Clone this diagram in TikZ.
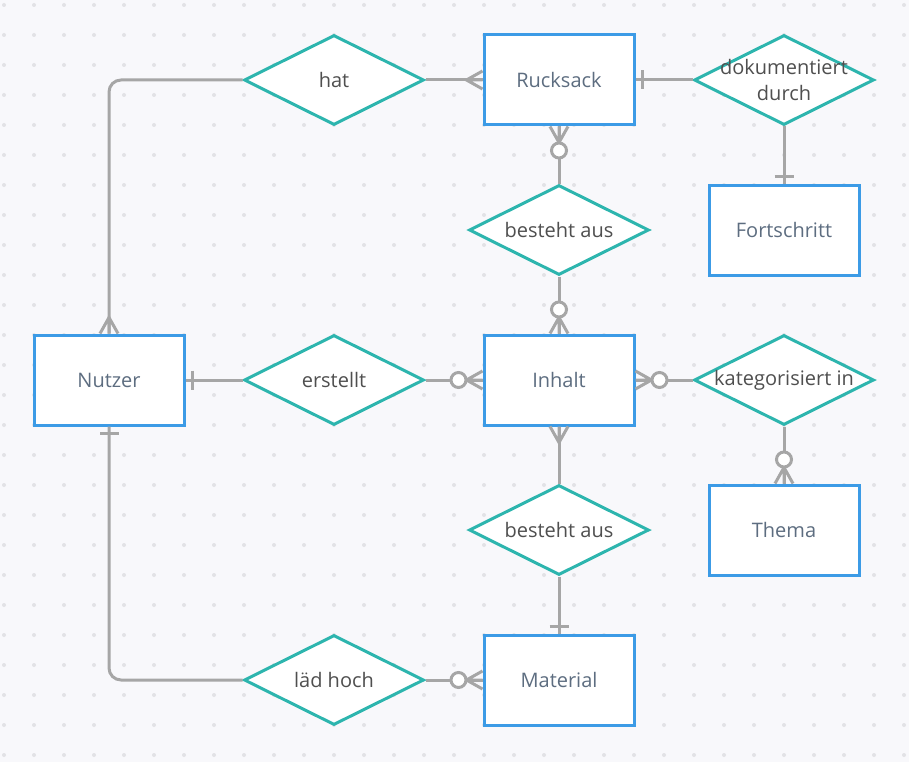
\documentclass[tikz,border=0pt]{standalone}
\usepackage{fontspec}
\setmainfont{Open Sans}
\usetikzlibrary{shapes.geometric}
\definecolor{bggrey}{HTML}{F8F8FB}
\definecolor{dotgrey}{HTML}{E2E2E6}
\definecolor{entblue}{HTML}{3C9BE6}
\definecolor{relteal}{HTML}{2DB5AE}
\definecolor{conngrey}{HTML}{A6A6A6}
\definecolor{enttext}{HTML}{5D6D80}
\definecolor{reltext}{HTML}{4F4F4F}
\tikzset{entity/.style={rectangle, draw=entblue, fill=white, line width=3pt, minimum width=150pt, minimum height=90pt, text=enttext, font=\fontsize{20}{26}\selectfont},
relation/.style={diamond, draw=relteal, fill=white, line width=3pt, minimum width=180pt, minimum height=90pt, inner sep=0pt},
reltxt/.style={align=center, text=reltext, font=\fontsize{20}{26}\selectfont},
conn/.style={draw=conngrey, line width=3pt},
%ends drawn outward from the box edge
many/.pic={\draw[conn] (0,9) -- (16,0) -- (0,-9) (0,0) -- (16,0);},
zeromany/.pic={\draw[conn] (0,9) -- (16,0) -- (0,-9) (0,0) -- (16,0);
  \draw[conn, fill=white] (24,0) circle (7.5);},
one/.pic={\draw[conn] (7,-9.5) -- (7,9.5);}}

\begin{document}
\begin{tikzpicture}[x=1pt, y=-1pt]

\fill[bggrey] (0,0) rectangle (909,762);
\useasboundingbox (0,0) rectangle (909,762);
\foreach \i in {0,...,30}
  \foreach \j in {0,...,25}
    \fill[dotgrey] (4+30*\i, 5+30*\j) circle (2);

\node[entity] (Rucksack) at (559,80) {Rucksack};
\node[entity] (Fortschritt) at (784,230) {Fortschritt};
\node[entity] (Nutzer) at (109,380) {Nutzer};
\node[entity] (Inhalt) at (559,380) {Inhalt};
\node[entity] (Thema) at (784,530) {Thema};
\node[entity] (Material) at (559,680) {Material};

\node[relation, label={[reltxt]center:hat}] (hat) at (334,80) {};
\node[relation, label={[reltxt]center:dokumentiert\\durch}] (dok) at (784,80) {};
\node[relation, label={[reltxt]center:besteht aus}] (besteht1) at (559,230) {};
\node[relation, label={[reltxt]center:erstellt}] (erstellt) at (334,380) {};
\node[relation, label={[reltxt]center:kategorisiert in}] (kat) at (784,380) {};
\node[relation, label={[reltxt]center:besteht aus}] (besteht2) at (559,530) {};
\node[relation, label={[reltxt]center:läd hoch}] (laed) at (334,680) {};

\draw[conn, rounded corners=12pt] (hat.west) -| (Nutzer.north);
\draw[conn] (hat.east) -- (Rucksack.west);
\draw[conn] (Rucksack.east) -- (dok.west);
\draw[conn] (dok.south) -- (Fortschritt.north);
\draw[conn] (Rucksack.south) -- (besteht1.north);
\draw[conn] (besteht1.south) -- (Inhalt.north);
\draw[conn] (Nutzer.east) -- (erstellt.west);
\draw[conn] (erstellt.east) -- (Inhalt.west);
\draw[conn] (Inhalt.east) -- (kat.west);
\draw[conn] (kat.south) -- (Thema.north);
\draw[conn] (Inhalt.south) -- (besteht2.north);
\draw[conn] (besteht2.south) -- (Material.north);
\draw[conn] (laed.east) -- (Material.west);
\draw[conn, rounded corners=12pt] (laed.west) -| (Nutzer.south);

\pic[rotate=90] at (Nutzer.north) {many};
\pic[rotate=180] at (Rucksack.west) {many};
\pic at (Rucksack.east) {one};
\pic[rotate=90] at (Fortschritt.north) {one};
\pic[rotate=270] at (Rucksack.south) {zeromany};
\pic[rotate=90] at (Inhalt.north) {zeromany};
\pic at (Nutzer.east) {one};
\pic[rotate=180] at (Inhalt.west) {zeromany};
\pic at (Inhalt.east) {zeromany};
\pic[rotate=90] at (Thema.north) {zeromany};
\pic[rotate=270] at (Inhalt.south) {many};
\pic[rotate=90] at (Material.north) {one};
\pic[rotate=180] at (Material.west) {zeromany};
\pic[rotate=270] at (Nutzer.south) {one};

\end{tikzpicture}
\end{document}
